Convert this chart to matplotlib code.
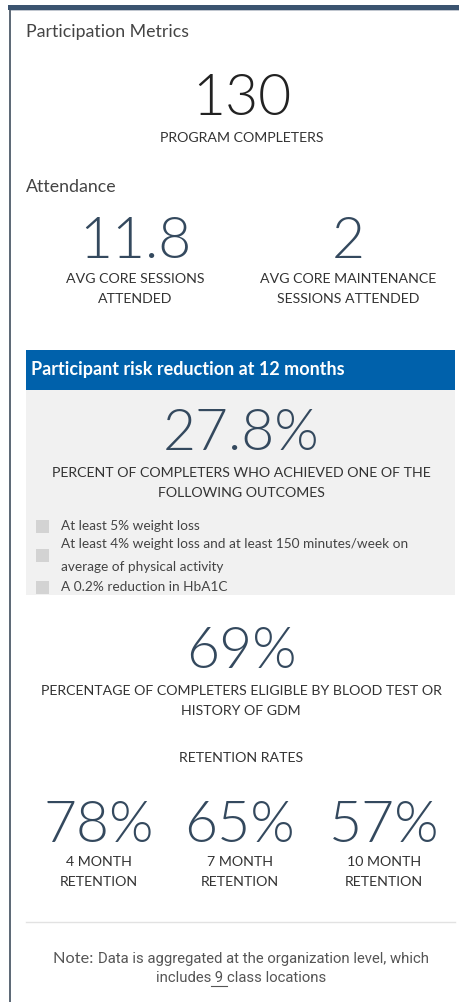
import matplotlib.pyplot as plt
import matplotlib.patches as patches

# data
completers = 130
completers_label = 'PROGRAM COMPLETERS'
attendance_values = ['11.8', '2']
attendance_labels = ['AVG CORE SESSIONS\nATTENDED', 'AVG CORE MAINTENANCE\nSESSIONS ATTENDED']
risk_title = 'Participant risk reduction at 12 months'
risk_pct = 27.8
risk_label = 'PERCENT OF COMPLETERS WHO ACHIEVED ONE OF THE\nFOLLOWING OUTCOMES'
outcomes = ['At least 5% weight loss',
            'At least 4% weight loss and at least 150 minutes/week on\naverage of physical activity',
            'A 0.2% reduction in HbA1C']
eligible_pct = 69
eligible_label = 'PERCENTAGE OF COMPLETERS ELIGIBLE BY BLOOD TEST OR\nHISTORY OF GDM'
retention_values = [78, 65, 57]
retention_months = [4, 7, 10]
class_locations = 9

W, H = 460, 1002
fig = plt.figure(figsize=(W / 100, H / 100), dpi=100)
ax = fig.add_axes([0, 0, 1, 1])
ax.set_xlim(0, W)
ax.set_ylim(H, 0)
ax.axis('off')

num_col = '#34495e'
lab_col = '#333333'
big = dict(family='Lato', fontweight=300, fontsize=41, ha='center', va='center')
cap = dict(family='Lato', fontsize=10.2, ha='center', va='center', color=lab_col, linespacing=1.75)

# card frame
ax.add_patch(patches.Rectangle((8, 5), W - 8, 4.5, color='#3b5470', lw=0))
ax.add_patch(patches.Rectangle((9, 9.5), W - 9, 1.2, color='#c0c6cf', lw=0))
ax.add_patch(patches.Rectangle((9, 9.5), 2, H, color='#5f6b78', lw=0))

# participation
ax.text(26, 32, 'Participation Metrics', family='Lato', fontsize=12.8, color='#444444', va='center')
ax.text(242, 99, str(completers), color='#222222', **big)
ax.text(242, 138, completers_label, **cap)

# attendance
ax.text(26, 187, 'Attendance', family='Lato', fontsize=12.8, color='#444444', va='center')
for x, v, lab in zip([135, 348], attendance_values, attendance_labels):
    ax.text(x, 242, v, color=num_col, **big)
    ax.text(x, 289, lab, **cap)

# risk reduction panel
ax.add_patch(patches.Rectangle((26, 350), 429, 40, color='#0061ab', lw=0))
ax.add_patch(patches.Rectangle((26, 390), 429, 205, color='#f1f1f1', lw=0))
ax.text(31, 370, risk_title, family='Lato', fontweight='bold', fontsize=13, color='white', va='center')
ax.text(241, 434, f'{risk_pct}%', color=num_col, **big)
ax.text(241, 483, risk_label, **cap)
for yc, txt in zip([526, 555.5, 587], outcomes):
    ax.add_patch(patches.Rectangle((36, yc - 6.5), 13, 13, color='#d3d3d3', lw=0))
    ax.text(61, yc, txt, family='Lato', fontsize=9.8, color='#444444', va='center', linespacing=2.15)

# eligibility
ax.text(241, 653, f'{eligible_pct}%', color=num_col, **big)
ax.text(241, 701, eligible_label, **cap)

# retention
ax.text(241, 758, 'RETENTION RATES', **cap)
for x, v, m in zip([99, 240, 384], retention_values, retention_months):
    ax.text(x, 826, f'{v}%', color=num_col, **big)
    ax.text(x, 872, f'{m} MONTH\nRETENTION', **cap)

ax.plot([26, 455], [922, 922], color='#e2e2e2', lw=1)

# note
fig.canvas.draw()
r = fig.canvas.get_renderer()
note_col = '#555555'


def pieces(parts, y):
    ts = []
    for s, fam, fs in parts:
        ts.append(ax.text(0, y, s, family=fam, fontsize=fs, color=note_col, va='center'))
    ws = [t.get_window_extent(r).width for t in ts]
    x = 241 - sum(ws) / 2
    for t, w in zip(ts, ws):
        t.set_x(x)
        x += w
    return ts, ws


pieces([('Note: ', 'Lato', 11.8), ('Data is aggregated at the organization level, which', 'Roboto', 10.7)], 959)
ts, ws = pieces([('includes', 'Roboto', 10.7), (f' {class_locations} ', 'Roboto', 10.7),
                 ('class locations', 'Roboto', 10.7)], 978)
x0 = ts[1].get_position()[0]
ax.plot([x0, x0 + ws[1]], [986, 986], color=note_col, lw=0.8)

fig.savefig('out.png', dpi=100)
